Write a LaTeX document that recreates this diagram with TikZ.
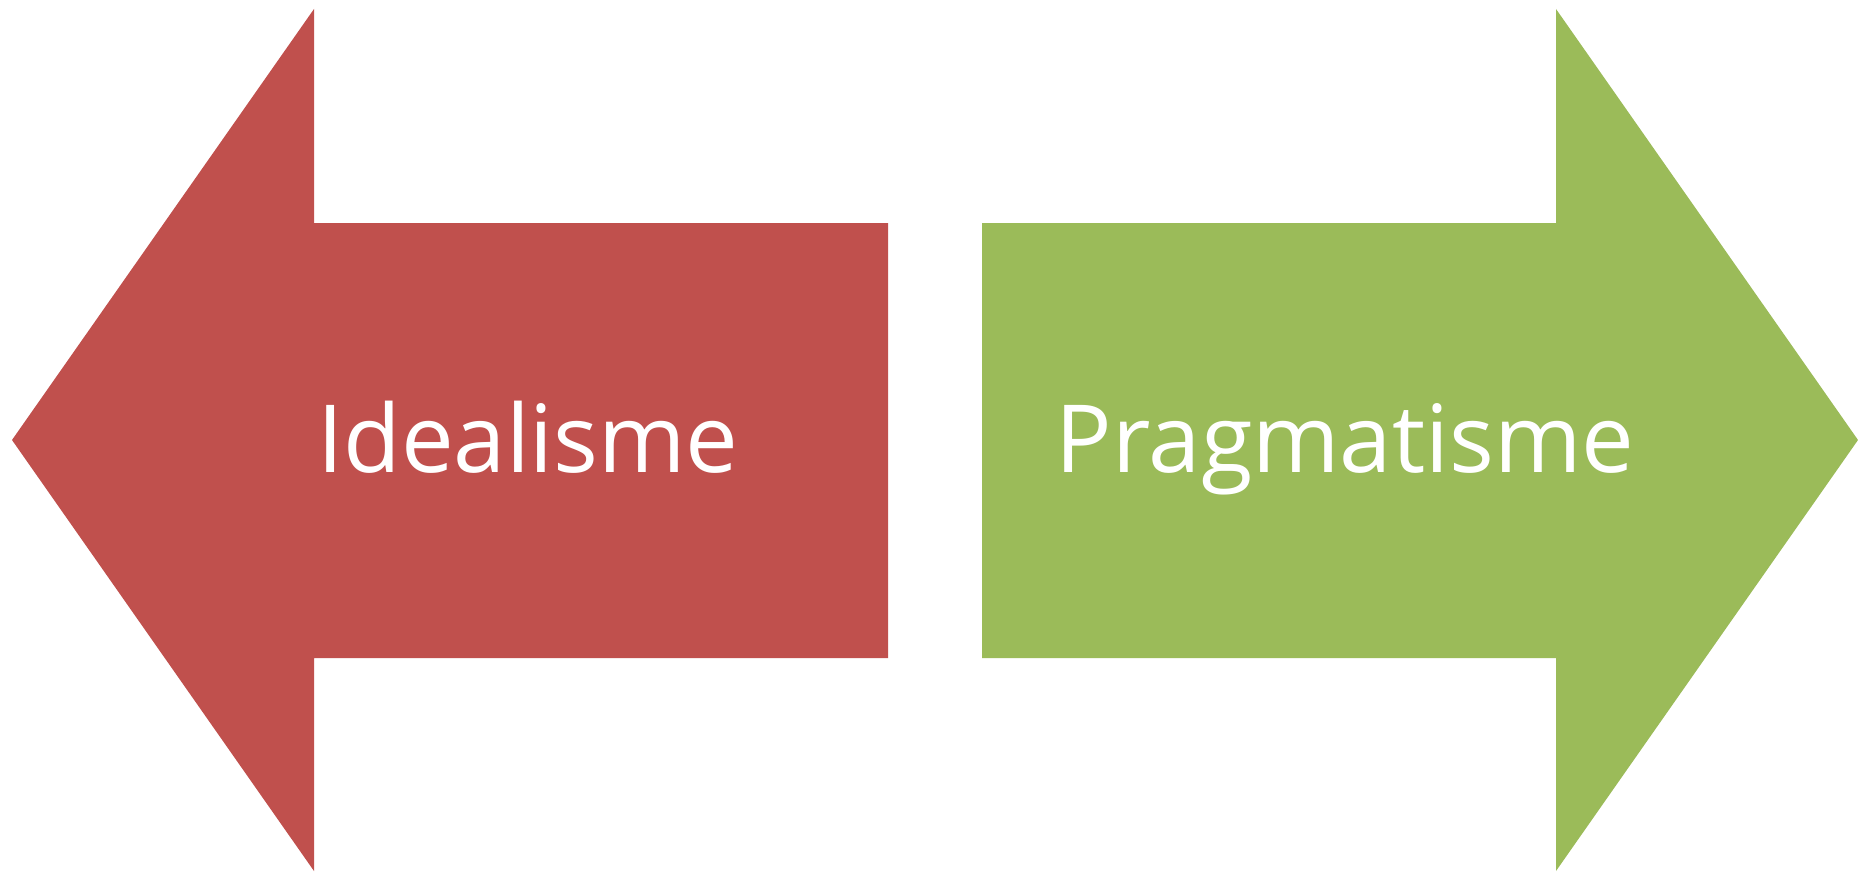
\documentclass[tikz,border=0pt]{standalone}
\usepackage{fontspec}
\setmainfont{Open Sans}
\definecolor{idealred}{HTML}{C0504D}
\definecolor{pragmagreen}{HTML}{9BBB59}
\tikzset{bigarrow/.style={draw=none}}
\begin{document}
\begin{tikzpicture}[x=1pt,y=-1pt]

      \useasboundingbox (0,0) rectangle (1858,872);

      \begin{scope}[bigarrow]
        \fill[idealred] (12,440) -- (314,9) -- (314,223) -- (888,223)
          -- (888,658) -- (314,658) -- (314,871) -- cycle;
        \fill[pragmagreen] (1858,440) -- (1556,9) -- (1556,223) -- (982,223)
          -- (982,658) -- (1556,658) -- (1556,871) -- cycle;
      \end{scope}

      \begin{scope}[every node/.style={text=white,inner sep=0pt,anchor=base,
          font=\fontsize{94}{110}\selectfont}]
        \node (ideal) at (528,472) {Idealisme};
        \node (prag)  at (1345,472) {Pragmatisme};
      \end{scope}

    \end{tikzpicture}
\end{document}
